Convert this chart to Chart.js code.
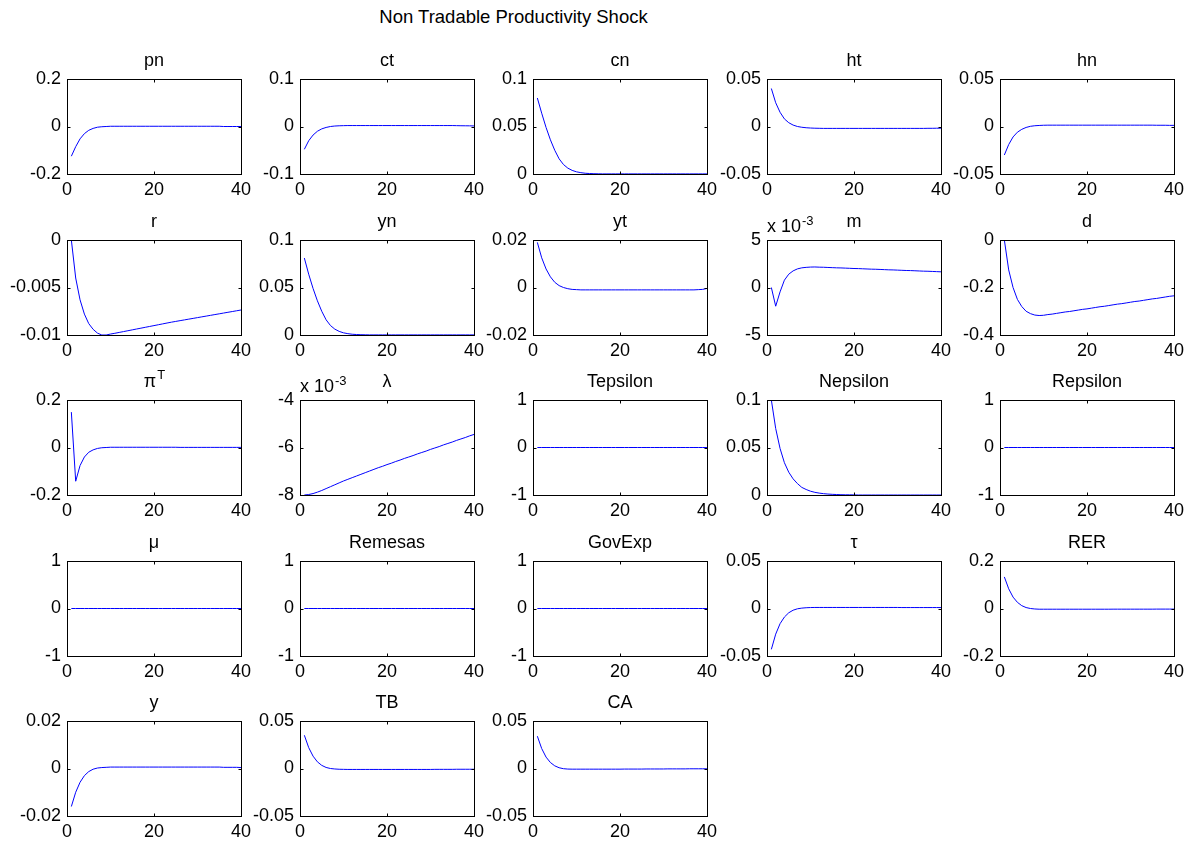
<!DOCTYPE html>
<html>
<head>
<meta charset="utf-8">
<script src="https://cdn.jsdelivr.net/npm/chart.js@4.4.0/dist/chart.umd.min.js"></script>
<style>
body { margin: 0; background: #fff; width: 1202px; height: 842px; position: relative; overflow: hidden; font-family: "Liberation Sans", Arial, sans-serif; }
#title { position: absolute; left: 0; width: 1027px; top: 6px; text-align: center; font-size: 18.5px; color: #000; }
canvas { position: absolute; }
</style>
</head>
<body>
<div id="title">Non Tradable Productivity Shock</div>
<script>
// impulse responses, periods 1..40
const periods = [1,2,3,4,5,6,7,8,9,10,11,12,13,14,15,16,17,18,19,20,21,22,23,24,25,26,27,28,29,30,31,32,33,34,35,36,37,38,39,40];
const xTicks = [0, 20, 40];

const pn = [-0.125,-0.085,-0.052,-0.030,-0.016,-0.008,-0.003,-0.001,0.000,0.001,
  0.001,0.001,0.001,0.001,0.001,0.001,0.001,0.001,0.001,0.001,
  0.001,0.001,0.001,0.001,0.001,0.001,0.001,0.001,0.001,0.001,
  0.001,0.001,0.001,0.001,0.001,0.000,0.000,0.000,0.000,0.000];
const ct = [-0.048,-0.030,-0.018,-0.010,-0.005,-0.002,0.000,0.001,0.0015,0.0018,
  0.002,0.002,0.002,0.002,0.002,0.002,0.002,0.002,0.002,0.002,
  0.002,0.002,0.002,0.002,0.002,0.002,0.002,0.002,0.002,0.002,
  0.002,0.002,0.002,0.002,0.002,0.0018,0.0016,0.0015,0.0014,0.0012];
const cn = [0.080,0.064,0.049,0.036,0.025,0.016,0.010,0.0062,0.0038,0.0023,
  0.0014,0.0008,0.0005,0.0003,0.0002,0.0001,0.0001,0.0001,0.0001,0.0001,
  0.0001,0.0001,0.0001,0.0001,0.0001,0.0001,0.0001,0.0001,0.0001,0.0001,
  0.0001,0.0001,0.0001,0.0001,0.0001,0.0001,0.0001,0.0001,0.0001,0.0001];
const ht = [0.040,0.025,0.015,0.008,0.004,0.0015,0.0000,-0.0008,-0.0013,-0.0016,
  -0.0018,-0.0019,-0.002,-0.002,-0.002,-0.002,-0.002,-0.002,-0.002,-0.002,
  -0.002,-0.002,-0.002,-0.002,-0.002,-0.002,-0.002,-0.002,-0.002,-0.002,
  -0.002,-0.002,-0.002,-0.002,-0.002,-0.002,-0.0019,-0.0019,-0.0018,-0.0018];
const hn = [-0.030,-0.019,-0.011,-0.006,-0.003,-0.001,0.0002,0.0008,0.0011,0.0013,
  0.0014,0.0014,0.0014,0.0014,0.0014,0.0014,0.0014,0.0014,0.0014,0.0014,
  0.0014,0.0014,0.0014,0.0014,0.0014,0.0014,0.0014,0.0014,0.0014,0.0014,
  0.0014,0.0014,0.0014,0.0014,0.0014,0.0013,0.0013,0.0013,0.0012,0.0012];
const r = [0.0000,-0.0040,-0.0063,-0.0078,-0.0088,-0.0094,-0.0098,-0.0100,-0.0100,-0.0099,
  -0.00982,-0.00973,-0.00964,-0.00955,-0.00946,-0.00937,-0.00928,-0.00919,-0.00910,-0.00901,
  -0.00892,-0.00883,-0.00874,-0.00865,-0.00857,-0.00849,-0.00841,-0.00833,-0.00825,-0.00817,
  -0.00809,-0.00801,-0.00793,-0.00785,-0.00777,-0.00769,-0.00761,-0.00753,-0.00745,-0.00737];
const yn = [0.081,0.064,0.049,0.036,0.025,0.016,0.010,0.0062,0.0038,0.0023,
  0.0014,0.0008,0.0005,0.0003,0.0002,0.0001,0.0001,0.0001,0.0001,0.0001,
  0.0001,0.0001,0.0001,0.0001,0.0001,0.0001,0.0001,0.0001,0.0001,0.0001,
  0.0001,0.0001,0.0001,0.0001,0.0001,0.0001,0.0001,0.0001,0.0001,0.0001];
const yt = [0.019,0.0125,0.0078,0.0045,0.0022,0.0008,0.0000,-0.0005,-0.0008,-0.0009,
  -0.001,-0.001,-0.001,-0.001,-0.001,-0.001,-0.001,-0.001,-0.001,-0.001,
  -0.001,-0.001,-0.001,-0.001,-0.001,-0.001,-0.001,-0.001,-0.001,-0.001,
  -0.001,-0.001,-0.001,-0.001,-0.001,-0.001,-0.001,-0.0009,-0.0008,-0.0004];
const m = [0.0000,-0.00197,-0.00046,0.00077,0.00140,0.00175,0.00196,0.00207,0.00212,0.00215,
  0.00216,0.00214,0.00213,0.00211,0.00209,0.00207,0.00206,0.00204,0.00202,0.00200,
  0.00199,0.00197,0.00195,0.00193,0.00192,0.00190,0.00188,0.00186,0.00185,0.00183,
  0.00181,0.00179,0.00178,0.00176,0.00174,0.00172,0.00171,0.00169,0.00167,0.00165];
const d = [0.000,-0.126,-0.200,-0.250,-0.280,-0.300,-0.310,-0.316,-0.318,-0.317,
  -0.314,-0.312,-0.309,-0.306,-0.303,-0.301,-0.298,-0.295,-0.292,-0.290,
  -0.287,-0.284,-0.281,-0.279,-0.276,-0.273,-0.270,-0.268,-0.265,-0.262,
  -0.259,-0.257,-0.254,-0.251,-0.248,-0.246,-0.243,-0.240,-0.237,-0.235];
const piT = [0.149,-0.142,-0.076,-0.040,-0.020,-0.010,-0.004,-0.001,0.000,0.001,
  0.001,0.001,0.001,0.001,0.001,0.001,0.001,0.001,0.001,0.001,
  0.001,0.001,0.001,0.001,0.001,0.0005,0.0005,0.0005,0.0005,0.0005,
  0.0005,0.0005,0.0005,0.0005,0.0005,0.0005,0.0005,0.0005,0.0005,0.0005];
const lambda = [-0.00800,-0.00798,-0.00794,-0.00788,-0.00781,-0.00773,-0.00765,-0.00757,-0.00749,-0.00741,
  -0.00734,-0.00727,-0.00720,-0.00713,-0.00706,-0.00699,-0.00692,-0.00685,-0.00679,-0.00672,
  -0.00666,-0.00659,-0.00653,-0.00646,-0.00640,-0.00634,-0.00627,-0.00621,-0.00615,-0.00608,
  -0.00602,-0.00596,-0.00589,-0.00583,-0.00577,-0.00570,-0.00564,-0.00558,-0.00551,-0.00545];
const zeros = [0,0,0,0,0,0,0,0,0,0,0,0,0,0,0,0,0,0,0,0,0,0,0,0,0,0,0,0,0,0,0,0,0,0,0,0,0,0,0,0];
const Tepsilon = zeros;
const Nepsilon = [0.100,0.070,0.049,0.034,0.024,0.017,0.012,0.008,0.0058,0.004,
  0.0028,0.002,0.0014,0.001,0.0007,0.0005,0.0003,0.0002,0.0002,0.0001,
  0,0,0,0,0,0,0,0,0,0,
  0,0,0,0,0,0,0,0,0,0];
const Repsilon = zeros;
const mu = zeros;
const Remesas = zeros;
const GovExp = zeros;
const tau = [-0.043,-0.027,-0.016,-0.009,-0.0045,-0.0018,-0.0003,0.0004,0.0008,0.001,
  0.0011,0.0011,0.0011,0.0011,0.0011,0.0011,0.0011,0.0011,0.0011,0.0011,
  0.0011,0.0011,0.0011,0.0011,0.0011,0.0011,0.0011,0.0011,0.0011,0.0011,
  0.001,0.001,0.001,0.001,0.001,0.001,0.001,0.001,0.001,0.001];
const RER = [0.133,0.083,0.048,0.026,0.012,0.004,0.000,-0.002,-0.003,-0.003,
  -0.003,-0.003,-0.003,-0.003,-0.003,-0.003,-0.003,-0.003,-0.003,-0.003,
  -0.003,-0.003,-0.003,-0.003,-0.003,-0.0028,-0.0028,-0.0028,-0.0028,-0.0028,
  -0.0028,-0.0028,-0.0028,-0.0028,-0.0028,-0.0025,-0.0025,-0.0025,-0.0025,-0.0025];
const y = [-0.016,-0.010,-0.0058,-0.003,-0.0013,-0.0003,0.0002,0.0004,0.0005,0.0006,
  0.0006,0.0006,0.0006,0.0006,0.0006,0.0006,0.0006,0.0006,0.0006,0.0006,
  0.0006,0.0006,0.0006,0.0006,0.0006,0.0006,0.0006,0.0006,0.0006,0.0006,
  0.0006,0.0006,0.0006,0.0006,0.0006,0.0005,0.0005,0.0005,0.0005,0.0004];
const TB = [0.035,0.022,0.013,0.007,0.0033,0.0011,0.0000,-0.0005,-0.0008,-0.0009,
  -0.001,-0.001,-0.001,-0.001,-0.001,-0.001,-0.001,-0.001,-0.001,-0.001,
  -0.001,-0.001,-0.001,-0.001,-0.001,-0.001,-0.001,-0.001,-0.001,-0.001,
  -0.0009,-0.0009,-0.0009,-0.0009,-0.0009,-0.0008,-0.0008,-0.0008,-0.0008,-0.0008];
const CA = [0.034,0.021,0.012,0.0063,0.0028,0.0008,-0.0002,-0.0006,-0.0007,-0.0007,
  -0.0007,-0.0007,-0.0007,-0.0007,-0.0007,-0.0007,-0.0007,-0.0007,-0.0007,-0.0007,
  -0.0006,-0.0006,-0.0006,-0.0006,-0.0006,-0.0005,-0.0005,-0.0005,-0.0005,-0.0005,
  -0.0004,-0.0004,-0.0004,-0.0004,-0.0004,-0.0003,-0.0003,-0.0003,-0.0003,-0.0003];

const titles = ['pn','ct','cn','ht','hn','r','yn','yt','m','d','π','λ','Tepsilon','Nepsilon','Repsilon','μ','Remesas','GovExp','τ','RER','y','TB','CA'];
const titleSups = ['','','','','','','','','','','T','','','','','','','','','','','',''];
const series = [pn,ct,cn,ht,hn,r,yn,yt,m,d,piT,lambda,Tepsilon,Nepsilon,Repsilon,mu,Remesas,GovExp,tau,RER,y,TB,CA];
const yTicks = [
  [-0.2,0,0.2],[-0.1,0,0.1],[0,0.05,0.1],[-0.05,0,0.05],[-0.05,0,0.05],
  [-0.01,-0.005,0],[0,0.05,0.1],[-0.02,0,0.02],[-0.005,0,0.005],[-0.4,-0.2,0],
  [-0.2,0,0.2],[-0.008,-0.006,-0.004],[-1,0,1],[0,0.05,0.1],[-1,0,1],
  [-1,0,1],[-1,0,1],[-1,0,1],[-0.05,0,0.05],[-0.2,0,0.2],
  [-0.02,0,0.02],[-0.05,0,0.05],[-0.05,0,0.05]
];
const yExp = [0,0,0,0,0,0,0,0,-3,0,0,-3,0,0,0,0,0,0,0,0,0,0,0];

const FONT = '"Liberation Sans", Arial, sans-serif';
const colLeft = [67, 300, 533, 767, 1000];
const rowTop = [79, 240, 400, 561, 721];
const W = 175, H = 95;
const PL = 62, PT = 42, PR = 14, PB = 30;

Chart.defaults.font.family = FONT;
Chart.defaults.font.size = 18;
Chart.defaults.color = '#000';

const boxPlugin = {
  id: 'box',
  afterDraw(chart, args, opts) {
    const ctx = chart.ctx, a = chart.chartArea;
    const xs = chart.scales.x, ys = chart.scales.y;
    const L = Math.round(a.left) + 0.5, R = Math.round(a.right) + 0.5;
    const T = Math.round(a.top) + 0.5, B = Math.round(a.bottom) + 0.5;
    ctx.save();
    ctx.strokeStyle = '#000';
    ctx.lineWidth = 1;
    ctx.strokeRect(L, T, R - L, B - T);
    ctx.beginPath();
    xs.ticks.forEach(t => {
      const px = Math.round(xs.getPixelForValue(t.value)) + 0.5;
      ctx.moveTo(px, B); ctx.lineTo(px, B - 3);
      ctx.moveTo(px, T); ctx.lineTo(px, T + 3);
    });
    ys.ticks.forEach(t => {
      const py = Math.round(ys.getPixelForValue(t.value)) + 0.5;
      ctx.moveTo(L, py); ctx.lineTo(L + 3, py);
      ctx.moveTo(R, py); ctx.lineTo(R - 3, py);
    });
    ctx.stroke();

    // subplot title
    ctx.fillStyle = '#000';
    ctx.textBaseline = 'alphabetic';
    ctx.textAlign = 'left';
    ctx.font = '18px ' + FONT;
    const mw = ctx.measureText(opts.text).width;
    ctx.font = '13px ' + FONT;
    const sw = opts.sup ? ctx.measureText(opts.sup).width : 0;
    const cx = (a.left + a.right) / 2;
    const x0 = cx - (mw + sw) / 2;
    const by = a.top - 13;
    ctx.font = '18px ' + FONT;
    ctx.fillText(opts.text, x0, by);
    if (opts.sup) {
      ctx.font = '13px ' + FONT;
      ctx.fillText(opts.sup, x0 + mw + 1, by - 8);
    }

    // exponent note
    if (opts.exp) {
      ctx.font = '18px ' + FONT;
      ctx.fillText('x 10', a.left, a.top - 8);
      const w10 = ctx.measureText('x 10').width;
      ctx.font = '13px ' + FONT;
      ctx.fillText(String(opts.exp), a.left + w10 + 1, a.top - 15);
    }
    ctx.restore();
  }
};

series.forEach((vals, i) => {
  const col = i % 5, row = Math.floor(i / 5);
  const cv = document.createElement('canvas');
  cv.width = PL + W + PR;
  cv.height = PT + H + PB;
  cv.style.left = (colLeft[col] - PL) + 'px';
  cv.style.top = (rowTop[row] - PT) + 'px';
  document.body.appendChild(cv);
  const ticks = yTicks[i];
  const k = Math.pow(10, yExp[i]);
  new Chart(cv.getContext('2d'), {
    type: 'line',
    data: {
      datasets: [{
        data: periods.map((p, j) => ({ x: p, y: vals[j] })),
        borderColor: '#0000ff',
        borderWidth: 1,
        pointRadius: 0,
        tension: 0,
        fill: false
      }]
    },
    options: {
      responsive: false,
      animation: false,
      events: [],
      layout: { padding: { left: 0, top: PT, right: PR, bottom: 0 } },
      plugins: {
        legend: { display: false },
        tooltip: { enabled: false },
        box: { text: titles[i], sup: titleSups[i], exp: yExp[i] }
      },
      scales: {
        x: {
          type: 'linear', min: 0, max: 40,
          afterBuildTicks: s => { s.ticks = xTicks.map(v => ({ value: v })); },
          afterFit: s => { s.height = PB; },
          grid: { display: false, drawTicks: false },
          border: { display: false },
          ticks: { padding: 5, maxRotation: 0, autoSkip: false, color: '#000' }
        },
        y: {
          type: 'linear', min: ticks[0], max: ticks[2],
          afterBuildTicks: s => { s.ticks = ticks.map(v => ({ value: v })); },
          afterFit: s => { s.width = PL; },
          grid: { display: false, drawTicks: false },
          border: { display: false },
          ticks: {
            padding: 6, autoSkip: false, color: '#000',
            callback: v => String(+(v / k).toPrecision(4))
          }
        }
      }
    },
    plugins: [boxPlugin]
  });
});
</script>
</body>
</html>
